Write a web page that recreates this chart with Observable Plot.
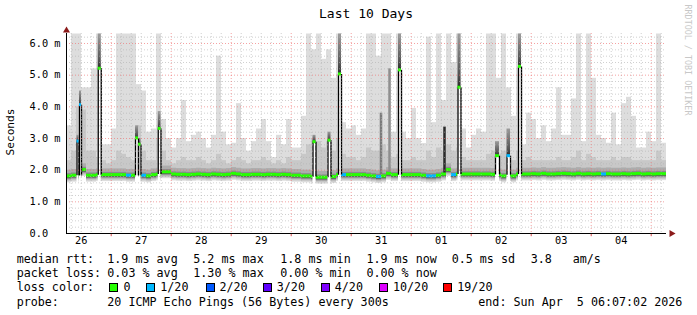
<!DOCTYPE html>
<html><head><meta charset="utf-8">
<script src="https://cdn.jsdelivr.net/npm/d3@7"></script>
<script src="https://cdn.jsdelivr.net/npm/@observablehq/plot@0.6"></script>
<style>
body{margin:0;background:#fff;}
#wrap{position:relative;width:697px;height:315px;font-family:"DejaVu Sans Mono",monospace;color:#000;overflow:hidden;}
#wrap svg{position:absolute;left:0;top:0;}
.t{position:absolute;white-space:pre;font-size:11.7px;line-height:14px;}
.box{position:absolute;width:7px;height:7px;border:1px solid #000;}
</style></head><body><div id="wrap"></div>
<script>
// ---------- data ----------
const startISO = "2026-03-26T06:07:02Z";
const endISO = "2026-04-05T06:07:02Z";
const binHours = 2;

// top of the lightest smoke per 2h bin (ms)
const smokeMax = [
  3.4,6.3,6.3,4.6,4.6,5.2,6.3,2.8,2.8,3.3,
  6.3,6.3,6.3,6.3,4.7,4.5,3.2,3.3,6.3,3.6,
  3.0,2.7,3.0,4.2,2.9,3.1,3.2,3.0,2.7,3.1,
  5.6,3.2,2.8,2.85,4.1,3.0,2.6,2.9,3.3,3.6,
  2.9,2.4,3.1,2.8,3.6,2.7,2.7,3.7,6.3,5.8,
  6.3,5.5,5.8,4.9,6.3,3.5,3.3,3.4,3.1,3.3,
  6.3,6.3,5.6,6.3,6.3,3.2,6.3,3.2,3.0,3.95,
  3.0,2.84,6.2,3.5,6.3,4.2,6.3,5.4,6.3,3.3,
  2.7,3.1,3.3,3.2,6.3,6.3,4.9,6.3,4.6,3.7,
  6.3,2.8,3.8,3.6,3.0,3.4,2.9,3.3,4.6,3.1,
  3.1,4.25,6.3,2.9,6.3,4.9,3.1,3.0,2.85,3.8,
  2.8,4.1,4.3,3.7,2.7,2.7,3.2,2.9,6.3,2.85
];
// top of the medium-grey smoke per bin (ms)
const smokeMid = [
  2.3,2.6,4.0,3.9,2.6,2.6,2.4,2.3,2.2,2.3,
  2.6,2.5,2.4,2.3,3.4,2.6,2.3,2.3,3.0,2.6,
  2.3,2.2,2.3,2.4,2.3,2.3,2.4,2.3,2.2,2.3,
  2.5,2.3,2.2,2.3,2.4,2.3,2.2,2.3,2.3,2.4,
  2.3,2.2,2.3,2.2,2.4,2.3,2.3,2.5,2.8,3.0,
  2.9,2.7,2.9,2.6,3.0,2.5,2.4,2.4,2.3,2.4,
  2.7,2.6,2.6,2.8,2.6,2.4,2.5,2.3,2.3,2.4,
  2.3,2.3,2.6,2.4,2.7,2.6,2.8,2.6,2.7,2.4,
  2.3,2.3,2.3,2.3,2.5,2.6,2.5,2.6,2.4,2.3,
  2.6,2.3,2.4,2.3,2.3,2.3,2.3,2.3,2.4,2.3,
  2.3,2.4,2.6,2.3,2.5,2.4,2.3,2.3,2.3,2.4,
  2.3,2.4,2.4,2.3,2.3,2.3,2.3,2.3,2.6,2.3
];
// median rtt per bin (ms)
const medianRtt = [
  1.80,1.82,1.82,2.00,1.82,1.82,1.84,1.84,1.84,1.84,
  1.84,1.84,1.82,1.82,1.82,1.82,1.80,1.84,1.86,1.93,
  1.93,1.86,1.85,1.85,1.84,1.85,1.86,1.85,1.84,1.86,
  1.85,1.84,1.85,1.88,1.86,1.84,1.84,1.85,1.85,1.84,
  1.85,1.85,1.84,1.85,1.84,1.82,1.82,1.80,1.80,1.78,
  1.76,1.76,1.76,1.78,1.84,1.84,1.84,1.84,1.84,1.84,
  1.82,1.80,1.78,1.80,1.88,1.84,1.84,1.84,1.84,1.84,
  1.84,1.82,1.80,1.80,1.82,1.86,2.00,1.84,1.86,1.86,
  1.86,1.86,1.86,1.86,1.86,1.85,1.84,1.80,1.84,1.80,
  1.86,1.86,1.86,1.87,1.86,1.88,1.86,1.86,1.87,1.88,
  1.87,1.86,1.88,1.86,1.87,1.86,1.87,1.86,1.87,1.86,
  1.86,1.87,1.86,1.87,1.88,1.86,1.87,1.86,1.87,1.87
];
// lost pings (of 20) per bin
const lossCount = [
  0,0,0,0,0,0,0,0,0,0,
  0,0,1,0,0,1,0,0,0,0,
  0,0,0,0,0,0,0,0,0,0,
  0,0,0,0,0,0,0,0,0,0,
  0,0,0,0,0,0,0,0,0,0,
  0,0,0,0,0,1,0,0,0,0,
  0,0,1,0,0,0,0,0,0,0,
  0,0,1,1,0,0,0,1,0,0,
  0,0,0,0,0,0,0,0,0,0,
  0,0,0,0,0,0,0,0,0,0,
  0,0,0,0,0,0,0,1,0,0,
  0,0,0,0,0,0,0,0,0,0
];
// short median spikes (hours after start)
const spikeStartH = [4.2,5.2,12.7,27.6,28.8,36.7,98.6,104.6,108.8,132.8,156.6,171.6,176.2,180.8];
const spikeEndH   = [5.0,6.0,13.9,28.8,29.8,37.8,99.8,105.8,110.0,134.0,157.8,173.2,177.6,182.0];
const spikeValue  = [2.9,4.05,5.2,3.0,2.8,3.3,2.88,2.93,5.02,5.15,4.6,2.44,2.44,5.26];
const spikeSmokeTop = [3.1,4.5,6.3,3.4,3.0,3.85,3.1,3.2,6.3,6.3,6.3,2.9,3.3,6.3];
const spikeLoss   = [1,1,0,0,0,0,0,0,0,0,0,0,1,0];
// narrow dark smoke streaks
const streakH = [126.0,129.4,151.4];
const streakTop = [3.8,5.2,3.36];
const streakShade = ["#7a7a7a","#8e8e8e","#2a2a2a"];

const yTickValues = [0,1,2,3,4,5,6];
const yTickLabels = ["0.0","1.0 m","2.0 m","3.0 m","4.0 m","5.0 m","6.0 m"];
const dayLabels = ["26","27","28","29","30","31","01","02","03","04"];

const lossLegendLabels = ["0","1/20","2/20","3/20","4/20","10/20","19/20"];
const lossLegendThreshold = [0,1,2,3,4,10,19];
const lossLegendColors = ["#26ff00","#00b8ff","#0059ff","#5e00ff","#7e00ff","#dd00ff","#ff0000"];

const titleText = "Last 10 Days";
const yLabelText = "Seconds";
const watermarkText = "RRDTOOL / TOBI OETIKER";
const statLines = [
  [["median rtt:",16.7],["1.9 ms avg",107.3],["5.2 ms max",193.3],["1.8 ms min",280.3],["1.9 ms now",366.4],["0.5 ms sd",451.7],["3.8",530.7],["am/s",572.7]],
  [["packet loss:",16.7],["0.03 % avg",107.3],["1.30 % max",193.3],["0.00 % min",280.3],["0.00 % now",366.4]],
  [["loss color:",16.7]],
  [["probe:",16.7],["20 ICMP Echo Pings (56 Bytes) every 300s",107.3],["end: Sun Apr  5 06:07:02 2026",478.3]]
];
const lossBoxX = [108.6,145.8,205.5,262.7,320.8,379,442.7];
const lossLabelX = [123.5,160.3,219.5,276.8,334.8,393,457.3];

// ---------- build ----------
const H = 3600e3;
const start = new Date(startISO), end = new Date(endISO);
const at = h => new Date(+start + h * H);
function lossColor(n){let c = lossLegendColors[0]; lossLegendThreshold.forEach((t,k)=>{ if(n>=t) c = lossLegendColors[k]; }); return c;}

const bins = smokeMax.map((v,i)=>({x1:at(i*binHours), x2:at((i+1)*binHours), max:v, mid:smokeMid[i], med:medianRtt[i], loss:lossCount[i]}));
const spikes = spikeValue.map((v,i)=>({x1:at(spikeStartH[i]), x2:at(spikeEndH[i]), v, top:spikeSmokeTop[i], loss:spikeLoss[i], base:medianRtt[Math.floor(spikeStartH[i]/binHours)]}));
const spikeEdges = spikes.flatMap(s=>[{x:s.x1,y1:s.base,y2:s.v},{x:s.x2,y1:s.base,y2:s.v}]);
const streaks = streakH.map((h,i)=>({x1:at(h-0.5), x2:at(h+0.5), top:streakTop[i], shade:streakShade[i], base:medianRtt[Math.floor(h/binHours)]}));

const yTop = 200/31.667;
const minorY = d3.range(1,32).filter(i=>i%5!==0).map(i=>i*0.2);
const majorY = [1,2,3,4,5,6];
const majorX = d3.utcDay.range(start,end);
const minorX = d3.utcHour.every(4).range(start,end).filter(d=>d.getUTCHours()!==0);
const dayNoons = dayLabels.map((l,i)=>new Date(Date.UTC(2026,2,26+i,12)));

const plot = Plot.plot({
  width:697, height:315,
  marginLeft:66, marginRight:31, marginTop:33, marginBottom:82,
  x:{type:"utc", domain:[start,end], axis:null},
  y:{type:"linear", domain:[0,yTop], axis:null},
  style:{fontFamily:"DejaVu Sans Mono", fontSize:"10.3px", background:"transparent", color:"#000", overflow:"visible"},
  marks:[
    Plot.rect(bins,{x1:"x1",x2:"x2",y1:d=>d.med-0.2,y2:"max",fill:"#dddddd"}),
    Plot.rect(bins,{x1:"x1",x2:"x2",y1:d=>d.med-0.16,y2:"mid",fill:"#c8c8c8"}),
    Plot.rect(bins,{x1:"x1",x2:"x2",y1:d=>d.med-0.12,y2:d=>d.med+0.2,fill:"#acacac"}),
    Plot.rect(bins,{x1:"x1",x2:"x2",y1:d=>d.med-0.09,y2:d=>d.med+0.09,fill:"#8a8a8a"}),
    Plot.rect(bins,{x1:"x1",x2:"x2",y1:d=>d.med-0.065,y2:d=>d.med+0.02,fill:"#5a5a5a"}),
    Plot.rect(streaks,{x1:"x1",x2:"x2",y1:"base",y2:"top",fill:"shade"}),
    Plot.rect(bins,{x1:"x1",x2:"x2",y1:d=>d.med-0.045,y2:d=>d.med+0.05,fill:d=>lossColor(d.loss)}),
    // spikes
    Plot.rect(spikes,{x1:"x1",x2:"x2",y1:1.5,y2:"v",fill:"#ffffff"}),
    Plot.rect(spikes,{x1:"x1",x2:"x2",y1:"v",y2:"top",fill:"url(#spikeGrad)"}),
    Plot.ruleX(spikeEdges,{x:"x",y1:"y1",y2:"y2",stroke:"#000",strokeWidth:1.3}),
    Plot.rect(spikes,{x1:"x1",x2:"x2",y1:d=>d.v-0.045,y2:d=>d.v+0.05,fill:d=>lossColor(d.loss)}),
    // grid
    Plot.ruleY(minorY,{stroke:"#b0b0b0",strokeOpacity:0.6,strokeDasharray:"1,2"}),
    Plot.ruleX(minorX,{stroke:"#b0b0b0",strokeOpacity:0.6,strokeDasharray:"1,2"}),
    Plot.ruleY(majorY,{stroke:"#f07070",strokeOpacity:0.65,strokeDasharray:"1,2"}),
    Plot.ruleX(majorX,{stroke:"#f07070",strokeOpacity:0.65,strokeDasharray:"1,2"}),
    // axis ticks below the x axis
    Plot.ruleX(majorX,{y1:0,y2:-0.1,stroke:"#e05050"}),
    // axes
    Plot.ruleY([0],{stroke:"#000"}),
    Plot.ruleX([start],{stroke:"#000"}),
    Plot.dot([end],{x:d=>d,y:()=>0,symbol:"triangle",r:2.6,rotate:90,fill:"#8b1a1a",stroke:null,dx:5}),
    Plot.dot([start],{x:d=>d,y:()=>yTop,symbol:"triangle",r:2.6,fill:"#8b1a1a",stroke:null,dy:-3}),
    // tick labels
    Plot.text(yTickValues,{y:d=>d,frameAnchor:"left",text:(d,i)=>yTickLabels[i],textAnchor:"start",dx:-37,fill:"#000"}),
    Plot.text(dayNoons,{x:d=>d,frameAnchor:"bottom",text:(d,i)=>dayLabels[i],dy:10,fill:"#000"})
  ]
});

// gradient for smoke above spikes
const ns = "http://www.w3.org/2000/svg";
const defs = document.createElementNS(ns,"defs");
defs.innerHTML = '<linearGradient id="spikeGrad" x1="0" y1="1" x2="0" y2="0"><stop offset="0" stop-color="#2a2a2a"/><stop offset="0.25" stop-color="#555555"/><stop offset="1" stop-color="#9c9c9c"/></linearGradient>';
plot.insertBefore(defs, plot.firstChild);

const wrap = document.getElementById("wrap");
wrap.appendChild(plot);

function addText(txt, x, y, extra){
  const d = document.createElement("div");
  d.className = "t"; d.textContent = txt;
  d.style.left = x + "px"; d.style.top = y + "px";
  if (extra) Object.assign(d.style, extra);
  wrap.appendChild(d);
  return d;
}
addText(titleText, 366, 6, {fontSize:"13px", lineHeight:"16px", transform:"translateX(-50%)"});
addText(yLabelText, 11, 132, {fontSize:"11.2px", transform:"translate(-50%,-50%) rotate(-90deg)"});
addText(watermarkText, 688, 60, {fontSize:"8.4px", color:"#c8c8c8", transform:"translate(-50%,-50%) rotate(90deg)"});

const lineTops = [252.3,266.3,280.3,294.7];
statLines.forEach((chunks,li)=>chunks.forEach(([t,x])=>addText(t,x,lineTops[li])));
lossLegendLabels.forEach((lab,i)=>{
  const b = document.createElement("div");
  b.className = "box";
  b.style.left = lossBoxX[i] + "px"; b.style.top = "283px";
  b.style.background = lossLegendColors[i];
  wrap.appendChild(b);
  addText(lab, lossLabelX[i], lineTops[2]);
});
</script>
</body></html>
